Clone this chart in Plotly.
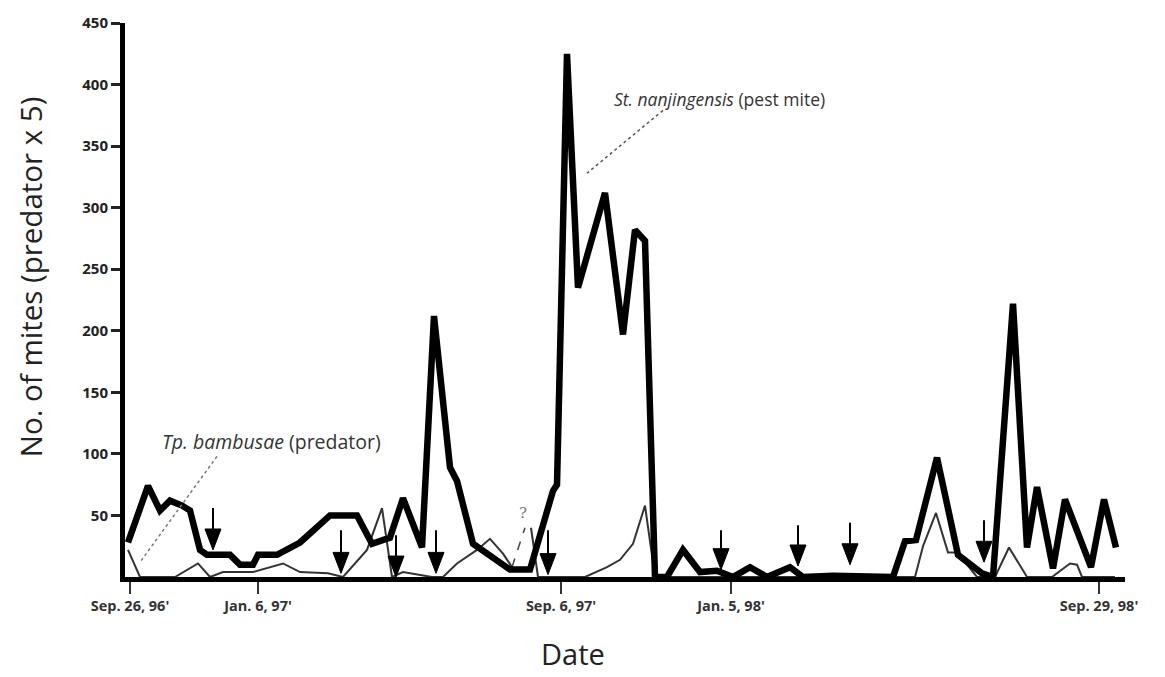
import plotly.graph_objects as go

# ---- data (x = position along the sampling time axis, 0..100) ----
pest_x = [0.3, 2.3, 3.5, 4.5, 5.7, 6.5, 7.5, 8.2, 10.5, 11.5, 12.8, 13.3, 15.2, 17.5,
          20.5, 23.2, 24.7, 26.5, 27.8, 29.7, 30.9, 32.5, 33.2, 34.8, 38.5, 40.5,
          42.8, 43.2, 44.2, 45.3, 48.0, 49.8, 51.0, 52.0, 53.0, 54.2, 55.8, 57.5,
          59.2, 60.8, 62.5, 64.2, 66.5, 67.8, 70.8, 76.8, 78.0, 79.1, 81.2, 83.3,
          85.7, 86.8, 88.8, 90.2, 91.2, 92.8, 94.0, 96.6, 97.9, 99.1]
pest_y = [28, 74, 54, 62, 58, 54, 22, 18, 18, 10, 10, 18, 18, 28,
          50, 50, 27, 32, 64, 24, 212, 89, 78, 27, 6, 6,
          70, 75, 425, 235, 312, 197, 282, 273, 0, 0, 22, 4,
          5, 0, 8, 0, 8, 0, 1, 0, 29, 30, 97, 18,
          3, 0, 222, 24, 73, 7, 63, 8, 63, 24]

pred_x = [0.3, 1.5, 5.0, 7.3, 8.5, 9.8, 12.8, 15.8, 17.5, 20.3, 21.8, 24.2, 25.7,
          26.7, 27.8, 30.7, 31.8, 33.2, 35.2, 36.5, 37.8, 38.7, None,
          40.6, 41.3, 46.0, 48.2, 49.5, 50.8, 52.0, 53.0, 79.0, 79.8, 81.1,
          82.3, 83.2, 85.2, 87.0, 88.4, 90.2, 92.7, 94.5, 95.2, 95.7, 99.0]
pred_y = [22, 0, 0, 11, 0, 4, 4, 11, 4, 3, 0, 22, 56,
          0, 4, 0, 0, 11, 22, 31, 19, 8, None,
          40, 0, 0, 8, 14, 27, 58, 0, 0, 25, 52,
          20, 20, 0, 0, 24, 0, 0, 11, 10, 0, 0]

# uncertain predator segment (marked "?")
pred_q_x = [38.7, 40.0]
pred_q_y = [8, 40]

# control (spray) arrows: position, arrow tail value, arrow tip value
arrow_x = [8.8, 21.6, 27.1, 31.1, 42.3, 59.6, 67.3, 72.5, 85.9]
arrow_tail = [56, 38, 34, 38, 38, 38, 42, 44, 46]
arrow_tip = [22, 3, 0, 3, 2, 6, 9, 10, 12]

x_tick_pos = [0.5, 13.3, 43.6, 60.6, 97.4]
x_tick_text = ["Sep. 26, 96'", "Jan. 6, 97'", "Sep. 6, 97'", "Jan. 5, 98'", "Sep. 29, 98'"]
y_tick_vals = [50, 100, 150, 200, 250, 300, 350, 400, 450]

fig = go.Figure()

fig.add_trace(go.Scatter(x=pred_x, y=pred_y, mode="lines",
                         line=dict(color="#333333", width=2), connectgaps=False,
                         hoverinfo="skip", showlegend=False))
fig.add_trace(go.Scatter(x=pred_q_x, y=pred_q_y, mode="lines",
                         line=dict(color="#444444", width=1.5, dash="dash"),
                         hoverinfo="skip", showlegend=False))
fig.add_trace(go.Scatter(x=pest_x, y=pest_y, mode="lines",
                         line=dict(color="#000000", width=6.5),
                         hoverinfo="skip", showlegend=False))

# arrows: stems and heads
stem_x, stem_y, head_x, head_y = [], [], [], []
head_len = 17
half_w = 0.8
for xv, t, p in zip(arrow_x, arrow_tail, arrow_tip):
    stem_x += [xv, xv, None]
    stem_y += [t, p + head_len * 0.5, None]
    head_x += [xv - half_w, xv + half_w, xv, xv - half_w, None]
    head_y += [p + head_len, p + head_len, p, p + head_len, None]
fig.add_trace(go.Scatter(x=stem_x, y=stem_y, mode="lines",
                         line=dict(color="#000000", width=2),
                         hoverinfo="skip", showlegend=False))
fig.add_trace(go.Scatter(x=head_x, y=head_y, mode="lines", fill="toself",
                         fillcolor="#000000", line=dict(color="#000000", width=1),
                         hoverinfo="skip", showlegend=False))

# pointer lines for labels
fig.add_trace(go.Scatter(x=[53.8, 46.2], y=[379, 328], mode="lines",
                         line=dict(color="#555555", width=1.5, dash="dot"),
                         hoverinfo="skip", showlegend=False))
fig.add_trace(go.Scatter(x=[9.2, 1.5], y=[98, 12], mode="lines",
                         line=dict(color="#777777", width=1.5, dash="dot"),
                         hoverinfo="skip", showlegend=False))

FONT = "Open Sans"
annotations = [
    dict(x=48.7, y=388, xref="x", yref="y", xanchor="left", yanchor="middle",
         text="<i>St. nanjingensis</i> (pest mite)", showarrow=False,
         font=dict(family=FONT, size=17.5, color="#333333")),
    dict(x=3.5, y=110, xref="x", yref="y", xanchor="left", yanchor="middle",
         text="<i>Tp. bambusae</i> (predator)", showarrow=False,
         font=dict(family=FONT, size=19.5, color="#333333")),
    dict(x=39.8, y=52, xref="x", yref="y", xanchor="center", yanchor="middle",
         text="?", showarrow=False,
         font=dict(family="DejaVu Serif", size=15, color="#777777")),
    dict(x=-0.095, y=0.541, xref="paper", yref="paper", xanchor="center", yanchor="middle",
         text="No. of mites (predator x 5)", textangle=-90, showarrow=False,
         font=dict(family=FONT, size=29.5, color="#222222")),
    dict(x=0.448, y=-0.176, xref="paper", yref="paper", xanchor="center", yanchor="bottom",
         text="Date", showarrow=False,
         font=dict(family=FONT, size=29, color="#222222")),
]

fig.update_layout(
    width=1165, height=677,
    margin=dict(l=125, r=40, t=15, b=100),
    paper_bgcolor="white", plot_bgcolor="white",
    annotations=annotations,
    xaxis=dict(range=[0, 100], showgrid=False, zeroline=False,
               showline=True, linecolor="black", linewidth=5,
               tickmode="array", tickvals=x_tick_pos, ticktext=x_tick_text,
               ticks="outside", ticklen=12, tickwidth=2, tickcolor="#333333",
               tickfont=dict(family=FONT, size=14.5, color="#333333", weight="bold"),
               ticklabeloverflow="allow", fixedrange=True),
    yaxis=dict(range=[0, 450], showgrid=False, zeroline=False,
               showline=True, linecolor="black", linewidth=5,
               tickmode="array", tickvals=y_tick_vals,
               ticktext=[str(v) for v in y_tick_vals],
               ticks="outside", ticklen=9, tickwidth=3, tickcolor="#222222",
               tickfont=dict(family=FONT, size=15, color="#222222", weight="bold"),
               ticklabeloverflow="allow", fixedrange=True),
)

# remove the default 8px page margin so the figure fills the window exactly
fig.write_html("out.html",
               config={"displayModeBar": False, "staticPlot": True},
               post_script="document.body.style.margin='0px';document.body.style.overflow='hidden';")
